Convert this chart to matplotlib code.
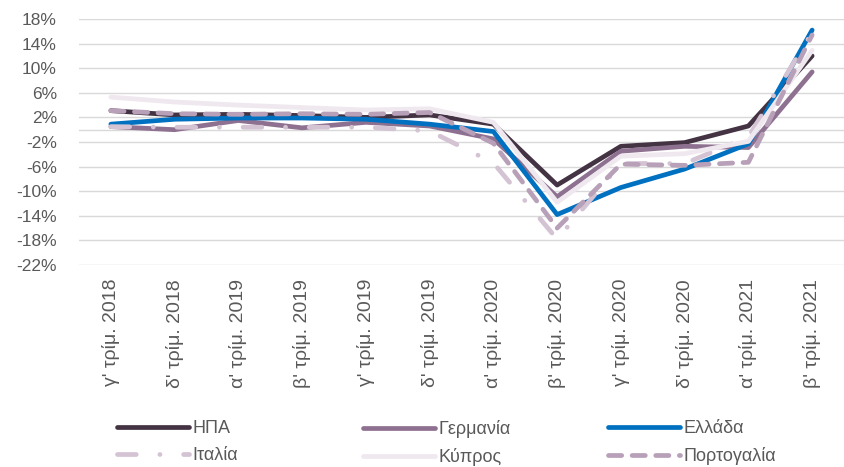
import matplotlib
matplotlib.use("Agg")
import matplotlib.pyplot as plt

plt.rcParams['font.family'] = ['Liberation Sans', 'DejaVu Sans']
plt.rcParams['lines.scale_dashes'] = False

categories = ["γ' τρίμ. 2018", "δ' τρίμ. 2018", "α' τρίμ. 2019", "β' τρίμ. 2019",
              "γ' τρίμ. 2019", "δ' τρίμ. 2019", "α' τρίμ. 2020", "β' τρίμ. 2020",
              "γ' τρίμ. 2020", "δ' τρίμ. 2020", "α' τρίμ. 2021", "β' τρίμ. 2021"]

usa      = [3.1, 2.4, 2.5, 2.3, 2.0, 2.4, 0.9, -9.0, -2.7, -2.1, 0.6, 12.0]
germany  = [0.5, 0.0, 1.5, 0.3, 1.2, 0.6, -1.5, -10.9, -3.5, -2.7, -2.9, 9.4]
greece   = [0.9, 1.7, 1.9, 1.9, 1.7, 0.9, -0.3, -13.8, -9.4, -6.4, -2.3, 16.2]
italy    = [0.5, 0.4, 0.4, 0.4, 0.4, -0.2, -5.4, -17.8, -5.5, -5.5, -1.2, 15.8]
cyprus   = [5.3, 4.5, 4.0, 3.6, 3.2, 3.4, 1.2, -11.8, -4.3, -3.9, -1.9, 12.9]
portugal = [3.1, 2.6, 2.5, 2.6, 2.5, 2.8, -2.2, -16.0, -5.6, -5.8, -5.3, 15.4]

y_ticks = [18, 14, 10, 6, 2, -2, -6, -10, -14, -18, -22]
y_tick_labels = [f"{v}%" for v in y_ticks]

series_names = ["ΗΠΑ", "Γερμανία", "Ελλάδα", "Ιταλία", "Κύπρος", "Πορτογαλία"]

W, H = 844, 467
fig = plt.figure(figsize=(W / 100, H / 100), dpi=100)
ax = fig.add_axes([79 / W, (H - 265) / H, (844 - 79) / W, (265 - 19) / H])

x = list(range(len(categories)))
lw = 3.4
txt = '#595959'
solid = dict(solid_capstyle='round', solid_joinstyle='round')
dashed = dict(dash_capstyle='round', dash_joinstyle='round')

h_usa, = ax.plot(x, usa, color='#433343', lw=lw, zorder=3, **solid)
h_ger, = ax.plot(x, germany, color='#8e7090', lw=lw, zorder=4, **solid)
h_gre, = ax.plot(x, greece, color='#0070c0', lw=lw, zorder=5, **solid)
h_ita, = ax.plot(x, italy, color='#d3c3d3', lw=lw, dashes=(13.5, 17, 0.1, 17), zorder=6, **dashed)
h_cyp, = ax.plot(x, cyprus, color='#efe8ef', lw=lw, zorder=7, **solid)
h_por, = ax.plot(x, portugal, color='#b8a0b8', lw=lw, dashes=(9.5, 7.5), zorder=8, **dashed)

ax.set_xlim(-0.5, len(categories) - 0.5)
ax.set_ylim(-22, 18)
ax.set_yticks(y_ticks)
ax.set_yticklabels(y_tick_labels, fontsize=12.5, color=txt)
ax.set_xticks(x)
ax.set_xticklabels(categories, rotation=90, fontsize=14, color=txt, va='top', ha='center')
ax.tick_params(axis='both', length=0)
ax.tick_params(axis='y', pad=16)
ax.tick_params(axis='x', pad=10)
ax.grid(axis='y', color='#d9d9d9', lw=1.0, zorder=0)
ax.axhline(0, color='#d9d9d9', lw=1.0, zorder=1)
for s in ax.spines.values():
    s.set_visible(False)
ax.set_axisbelow(True)

cols = [([h_usa, h_ita], [series_names[0], series_names[3]], 117),
        ([h_ger, h_cyp], [series_names[1], series_names[4]], 363),
        ([h_gre, h_por], [series_names[2], series_names[5]], 608)]
for handles, labels, px in cols:
    fig.legend(handles, labels, loc='upper left', bbox_to_anchor=(px / W, (H - 420) / H),
               frameon=False, fontsize=13, handlelength=4.0, handletextpad=0.2,
               labelspacing=0.55, borderaxespad=0, borderpad=0, labelcolor=txt)

fig.savefig('out.png', dpi=100)
